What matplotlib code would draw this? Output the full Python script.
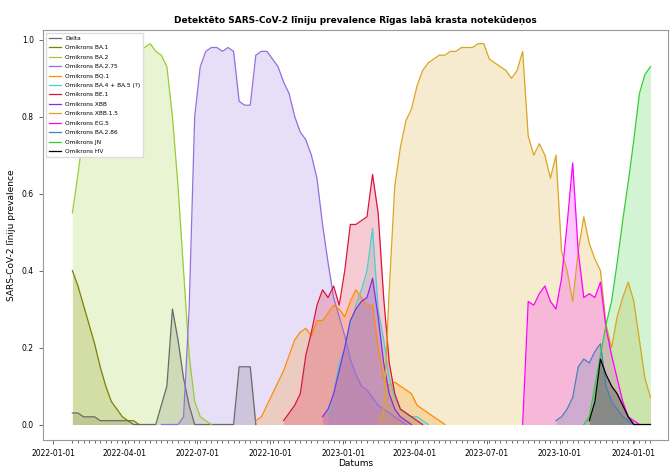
import matplotlib
matplotlib.use("Agg")
import matplotlib.pyplot as plt
import pandas as pd

# ---- data (weekly samples) ----
first_sample = "2022-01-25"
n_samples = 105

labels = ["Delta", "Omikrons BA.1", "Omikrons BA.2", "Omikrons BA.2.75", "Omikrons BQ.1",
          "Omikrons BA.4 + BA.5 (?)", "Omikrons BE.1", "Omikrons XBB", "Omikrons XBB.1.5",
          "Omikrons EG.5", "Omikrons BA.2.86", "Omikrons JN", "Omikrons HV"]
colors = ["dimgray", "olive", "yellowgreen", "mediumpurple", "darkorange",
          "mediumturquoise", "crimson", "blueviolet", "goldenrod",
          "magenta", "steelblue", "limegreen", "black"]

# first sample index of each series
starts = [0, 0, 0, 16, 33, 46, 38, 45, 55, 81, 87, 92, 93]

delta = [0.03, 0.03, 0.02, 0.02, 0.02, 0.01, 0.01, 0.01, 0.01, 0.01, 0.01, 0.0, 0.0,
         0.0, 0.0, 0.0, 0.05, 0.10, 0.30, 0.22, 0.12, 0.05, 0.0, 0.0, 0.0, 0.0, 0.0,
         0.0, 0.0, 0.0, 0.15, 0.15, 0.15, 0.0]
ba1 = [0.40, 0.36, 0.31, 0.26, 0.21, 0.15, 0.10, 0.06, 0.04, 0.02, 0.01, 0.01, 0.0]
ba2 = [0.55, 0.65, 0.76, 0.84, 0.88, 0.90, 0.92, 0.93, 0.94, 0.95, 0.95, 0.96, 0.97,
       0.98, 0.99, 0.97, 0.96, 0.93, 0.80, 0.62, 0.40, 0.18, 0.06, 0.02, 0.01, 0.0]
ba275 = [0.0, 0.0, 0.0, 0.0, 0.02, 0.30, 0.80, 0.93, 0.97, 0.98, 0.98, 0.97, 0.98, 0.97,
         0.84, 0.83, 0.83, 0.96, 0.97, 0.97, 0.95, 0.93, 0.89, 0.86, 0.80, 0.76, 0.74,
         0.70, 0.64, 0.52, 0.42, 0.33, 0.28, 0.23, 0.17, 0.13, 0.10, 0.09, 0.07, 0.05,
         0.04, 0.03, 0.02, 0.01, 0.0]
bq1 = [0.01, 0.02, 0.05, 0.08, 0.11, 0.14, 0.18, 0.22, 0.24, 0.25, 0.23, 0.27, 0.27,
       0.29, 0.31, 0.30, 0.28, 0.32, 0.35, 0.33, 0.31, 0.31, 0.20, 0.12, 0.10, 0.11,
       0.10, 0.09, 0.08, 0.05, 0.04, 0.03, 0.02, 0.01, 0.0]
ba45 = [0.03, 0.08, 0.16, 0.20, 0.26, 0.31, 0.35, 0.40, 0.51, 0.30, 0.22, 0.12, 0.07,
        0.04, 0.03, 0.02, 0.02, 0.01, 0.0]
be1 = [0.01, 0.03, 0.05, 0.08, 0.18, 0.24, 0.31, 0.35, 0.33, 0.36, 0.31, 0.40, 0.52,
       0.52, 0.53, 0.54, 0.65, 0.55, 0.33, 0.16, 0.08, 0.04, 0.03, 0.02, 0.01, 0.0]
xbb = [0.02, 0.04, 0.08, 0.14, 0.20, 0.27, 0.30, 0.32, 0.33, 0.38, 0.28, 0.16, 0.08,
       0.04, 0.02, 0.01, 0.0]
xbb15 = [0.01, 0.03, 0.35, 0.62, 0.72, 0.79, 0.82, 0.88, 0.92, 0.94, 0.95, 0.96, 0.96,
         0.97, 0.97, 0.98, 0.98, 0.98, 0.99, 0.99, 0.95, 0.94, 0.93, 0.92, 0.90, 0.92,
         0.97, 0.75, 0.70, 0.73, 0.70, 0.64, 0.70, 0.45, 0.40, 0.32, 0.45, 0.54, 0.47,
         0.43, 0.40, 0.26, 0.20, 0.28, 0.33, 0.37, 0.32, 0.22, 0.12, 0.07]
eg5 = [0.0, 0.32, 0.31, 0.34, 0.36, 0.32, 0.30, 0.38, 0.52, 0.68, 0.45, 0.33, 0.34,
       0.33, 0.37, 0.25, 0.18, 0.12, 0.06, 0.02, 0.01, 0.0]
ba286 = [0.01, 0.02, 0.04, 0.07, 0.15, 0.17, 0.16, 0.19, 0.21, 0.10, 0.06, 0.04, 0.02,
         0.01, 0.0]
jn = [0.0, 0.02, 0.10, 0.18, 0.26, 0.32, 0.42, 0.53, 0.63, 0.74, 0.86, 0.91, 0.93]
hv = [0.01, 0.06, 0.17, 0.13, 0.10, 0.08, 0.05, 0.02, 0.0, 0.0, 0.0, 0.0]

values = [delta, ba1, ba2, ba275, bq1, ba45, be1, xbb, xbb15, eg5, ba286, jn, hv]

tick_labels = ["2022-01-01", "2022-04-01", "2022-07-01", "2022-10-01", "2023-01-01",
               "2023-04-01", "2023-07-01", "2023-10-01", "2024-01-01"]

# ---- plot ----
dates = pd.date_range(first_sample, periods=n_samples, freq="7D")

fig = plt.figure(figsize=(6.72, 4.73), dpi=100)
ax = fig.add_axes([0.064, 0.070, 0.930, 0.867])

for lab, col, s, vals in zip(labels, colors, starts, values):
    d = dates[s:s + len(vals)]
    ax.plot(d, vals, color=col, lw=0.9, label=lab)
    ax.fill_between(d, 0, vals, color=col, alpha=0.22, lw=0)

ax.set_ylim(-0.04, 1.026)
ax.set_xlim(pd.Timestamp("2021-12-19"), pd.Timestamp("2024-02-14"))
ax.set_yticks([0.0, 0.2, 0.4, 0.6, 0.8, 1.0])
ax.set_xticks(pd.to_datetime(tick_labels))
ax.set_xticklabels(tick_labels)
ax.set_xticks(dates, minor=True)
ax.tick_params(axis="both", labelsize=5.5, length=3, width=0.6, color="#555555")
ax.tick_params(axis="x", which="minor", length=2, width=0.6, color="#555555")
for sp in ax.spines.values():
    sp.set_color("#999999")
    sp.set_linewidth(0.8)

ax.set_title("Detektēto SARS-CoV-2 līniju prevalence Rīgas labā krasta notekūdeņos",
             fontsize=6.5, fontweight="bold", pad=5)
ax.set_xlabel("Datums", fontsize=6.5, labelpad=1)
ax.set_ylabel("SARS-CoV-2 līniju prevalence", fontsize=6.5)
ax.legend(loc="upper left", fontsize=4.2, frameon=True, framealpha=1, edgecolor="#dddddd",
          handlelength=2.0, labelspacing=0.75, borderpad=0.5, fancybox=False)

fig.savefig("out.png", dpi=100)
